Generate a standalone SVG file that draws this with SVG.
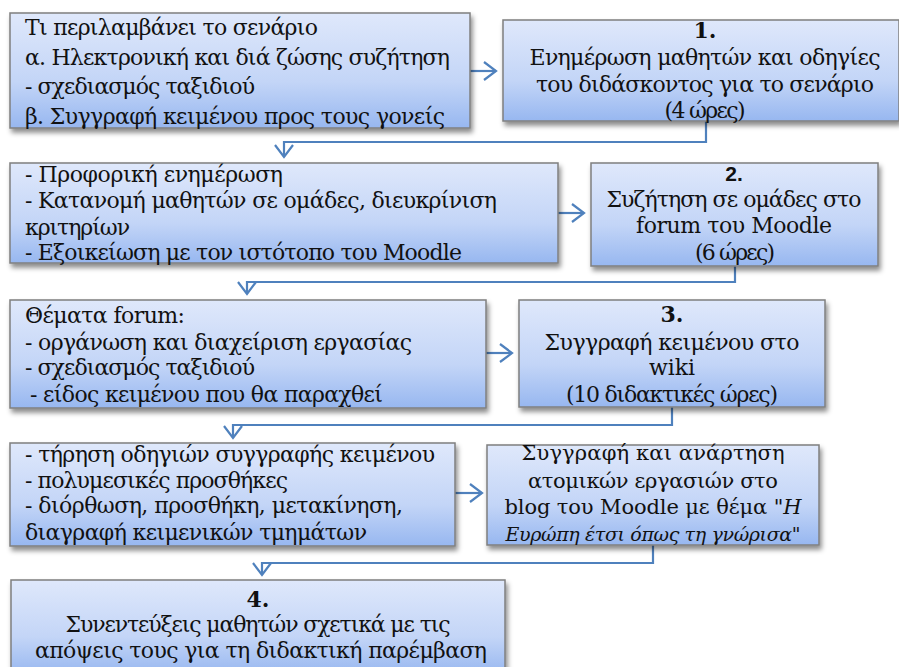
<svg xmlns="http://www.w3.org/2000/svg" width="899" height="667" viewBox="0 0 899 667">
<defs>
<linearGradient id="g" x1="0" y1="0" x2="0" y2="1">
<stop offset="0" stop-color="#dfe8fb"/>
<stop offset="0.6" stop-color="#c3d5f7"/>
<stop offset="1" stop-color="#97b7f0"/>
</linearGradient>
<filter id="sh" x="-5%" y="-10%" width="115%" height="130%">
<feDropShadow dx="2" dy="4" stdDeviation="2.5" flood-color="#000" flood-opacity="0.45"/>
</filter>
<marker id="ah" markerUnits="userSpaceOnUse" viewBox="0 0 16 22" refX="14" refY="11" markerWidth="16" markerHeight="22" orient="auto">
<path d="M2,2 L14,11 L2,20" fill="none" stroke="#4f81bd" stroke-width="2.2"/>
</marker>
</defs>
<style>
.box{fill:url(#g);stroke:#7f7f7f;stroke-width:1.5;filter:url(#sh)}
.t{font-family:"DejaVu Serif","Liberation Serif",serif;font-size:22px;fill:#111}
.s{font-size:21px}
.c{text-anchor:middle}
.b{font-weight:bold}
.i{font-style:italic}
.conn{fill:none;stroke:#4f81bd;stroke-width:2.2;marker-end:url(#ah)}
</style>
<rect width="899" height="667" fill="#fff"/>

<g id="connectors">
<path class="conn" d="M470,71 H496"/>
<path class="conn" d="M706,121 V142 H284 V157"/>
<path class="conn" d="M558,213 H584"/>
<path class="conn" d="M735,266 V282 H247 V294"/>
<path class="conn" d="M486,353 H512"/>
<path class="conn" d="M672,407 V425 H233 V438"/>
<path class="conn" d="M455,493 H482"/>
<path class="conn" d="M653,545 V563 H262 V575"/>
</g>

<g id="a1">
<rect class="box" x="10" y="13" width="460" height="115"/>
<text class="t" x="25" y="35" textLength="293">Τι περιλαμβάνει το σενάριο</text>
<text class="t" x="25" y="65" textLength="425">α. Ηλεκτρονική και διά ζώσης συζήτηση</text>
<text class="t" x="25" y="94" textLength="230">- σχεδιασμός ταξιδιού</text>
<text class="t" x="25" y="124" textLength="420">β. Συγγραφή κειμένου προς τους γονείς</text>
</g>

<g id="b1">
<rect class="box" x="503" y="20" width="396" height="101"/>
<text class="t c b" x="705" y="38">1.</text>
<text class="t c" x="705" y="65" textLength="351">Ενημέρωση μαθητών και οδηγίες</text>
<text class="t c" x="705" y="92" textLength="338">του διδάσκοντος για το σενάριο</text>
<text class="t c" x="705" y="118" textLength="81">(4 ώρες)</text>
</g>

<g id="a2">
<rect class="box" x="10" y="163" width="548" height="100"/>
<text class="t" x="25" y="182" textLength="258">- Προφορική ενημέρωση</text>
<text class="t" x="25" y="208" textLength="472">- Κατανομή μαθητών σε ομάδες, διευκρίνιση</text>
<text class="t" x="25" y="235" textLength="105">κριτηρίων</text>
<text class="t" x="25" y="260" textLength="437">- Εξοικείωση με τον ιστότοπο του Moodle</text>
</g>

<g id="b2">
<rect class="box" x="591" y="163" width="287" height="103"/>
<text class="t c b" x="734" y="181" style="font-family:'Liberation Sans',sans-serif;font-size:21px">2.</text>
<text class="t c" x="734" y="207" textLength="255">Συζήτηση σε ομάδες στο</text>
<text class="t c" x="734" y="233" textLength="196">forum του Moodle</text>
<text class="t c" x="735" y="260" textLength="80">(6 ώρες)</text>
</g>

<g id="a3">
<rect class="box" x="10" y="300" width="476" height="108"/>
<text class="t" x="25" y="323" textLength="160">Θέματα forum:</text>
<text class="t" x="25" y="350" textLength="387">- οργάνωση και διαχείριση εργασίας</text>
<text class="t" x="25" y="375" textLength="230">- σχεδιασμός ταξιδιού</text>
<text class="t" x="30" y="402" textLength="353">- είδος κειμένου που θα παραχθεί</text>
</g>

<g id="b3">
<rect class="box" x="519" y="300" width="306" height="107"/>
<text class="t c b" x="672" y="322">3.</text>
<text class="t c" x="672" y="350" textLength="255">Συγγραφή κειμένου στο</text>
<text class="t c" x="672" y="375">wiki</text>
<text class="t c" x="672" y="402" textLength="212">(10 διδακτικές ώρες)</text>
</g>

<g id="a4">
<rect class="box" x="10" y="443" width="445" height="103"/>
<text class="t" x="25" y="462" textLength="410">- τήρηση οδηγιών συγγραφής κειμένου</text>
<text class="t" x="25" y="488" textLength="263">- πολυμεσικές προσθήκες</text>
<text class="t" x="25" y="513" textLength="378">- διόρθωση, προσθήκη, μετακίνηση,</text>
<text class="t" x="25" y="540" textLength="342">διαγραφή κειμενικών τμημάτων</text>
</g>

<g id="b4">
<rect class="box" x="487" y="445" width="332" height="100"/>
<text class="t s c" x="653" y="460" textLength="263">Συγγραφή και ανάρτηση</text>
<text class="t s c" x="653" y="488" textLength="250">ατομικών εργασιών στο</text>
<text class="t s c" x="653" y="514" textLength="297">blog του Moodle με θέμα "<tspan class="i">Η</tspan></text>
<text class="t i c" x="653" y="541" style="font-size:19px" textLength="295">Ευρώπη έτσι όπως τη γνώρισα"</text>
</g>

<g id="a5">
<rect class="box" x="11" y="580" width="494" height="95"/>
<text class="t c b" x="258" y="607">4.</text>
<text class="t c" x="258" y="632" textLength="385">Συνεντεύξεις μαθητών σχετικά με τις</text>
<text class="t c" x="261" y="658" textLength="452">απόψεις τους για τη διδακτική παρέμβαση</text>
</g>
</svg>
